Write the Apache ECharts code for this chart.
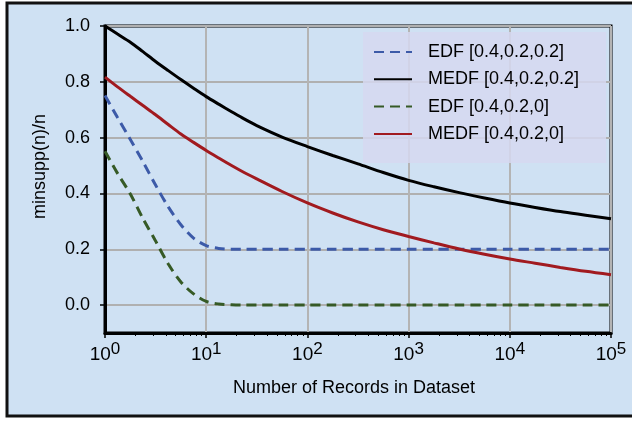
<!DOCTYPE html>
<html><head><meta charset="utf-8">
<script src="https://cdn.jsdelivr.net/npm/echarts@6/dist/echarts.min.js"></script>
<style>html,body{margin:0;padding:0;background:#fff}#c{width:632px;height:423px}</style>
</head><body><div id="c"></div>
<script>
// Records (x, log scale)
const records = [1,1.33,1.78,2.37,3.16,4.22,5.62,7.5,10,13.3,17.8,23.7,31.6,56.2,100,178,316,562,1000,1780,3160,5620,10000,17800,31600,56200,100000];
// Series values (minsupp(n)/n)
const edf02  = [0.751,0.672,0.593,0.514,0.43,0.352,0.288,0.24,0.213,0.203,0.2,0.2,0.2,0.2,0.2,0.2,0.2,0.2,0.2,0.2,0.2,0.2,0.2,0.2,0.2,0.2,0.2];
const medf02 = [1.0,0.971,0.942,0.908,0.873,0.84,0.808,0.777,0.747,0.72,0.693,0.667,0.643,0.602,0.568,0.536,0.506,0.475,0.447,0.424,0.403,0.384,0.366,0.35,0.335,0.322,0.309];
const edf0   = [0.551,0.472,0.398,0.31,0.23,0.147,0.083,0.04,0.013,0.004,0.001,0,0,0,0,0,0,0,0,0,0,0,0,0,0,0,0];
const medf0  = [0.817,0.782,0.748,0.715,0.682,0.647,0.613,0.583,0.554,0.527,0.5,0.475,0.452,0.407,0.366,0.33,0.298,0.27,0.246,0.223,0.201,0.182,0.165,0.15,0.135,0.121,0.109];
const seriesNames = ['EDF [0.4,0.2,0.2]','MEDF [0.4,0.2,0.2]','EDF [0.4,0.2,0]','MEDF [0.4,0.2,0]'];
// Tick values
const yTicks = [0,0.2,0.4,0.6,0.8,1.0];
const xMinor = [2,3,4,5,6,7,8,9,20,30,40,50,60,70,80,90,200,300,400,500,600,700,800,900,2000,3000,4000,5000,6000,7000,8000,9000,20000,30000,40000,50000,60000,70000,80000,90000];

const FONT = "'Liberation Sans', Arial, sans-serif";
const pair = arr => records.map((r,i)=>[r,arr[i]]);
const chart = echarts.init(document.getElementById('c'), null, {renderer:'canvas'});
const lineSeries = (name, data, color, dashed) => ({
  name, type:'line', data: pair(data), xAxisIndex:0, yAxisIndex:0,
  symbol:'none', smooth:0.3, z: 5,
  lineStyle:{color, width:3, type: dashed ? [10,6] : 'solid'},
  itemStyle:{color}
});
chart.setOption({
  backgroundColor:'#ffffff',
  animation:false,
  graphic:[{type:'rect', z:-100, shape:{x:7,y:3,width:700,height:413},
    style:{fill:'#cfe1f3', stroke:'#111', lineWidth:3}}],
  grid:{left:105, right:21, top:26, bottom:90, show:true, borderColor:'#000', borderWidth:3, backgroundColor:'transparent'},
  legend:{
    orient:'vertical', left:363, top:32, itemWidth:38, itemHeight:20, itemGap:9.3,
    padding:[11,27,20,10], backgroundColor:'rgba(214,216,240,0.85)',
    itemStyle:{opacity:0},
    textStyle:{fontFamily:FONT, fontSize:18, color:'#000', padding:[0,0,0,11]},
    data: seriesNames
  },
  xAxis:[{
    type:'log', logBase:10, min:1, max:100000,
    name:'Number of Records in Dataset', nameLocation:'middle', nameGap:46,
    nameTextStyle:{fontFamily:FONT, fontSize:18, color:'#000', padding:[0,8,0,0]},
    axisLine:{onZero:false, lineStyle:{color:'#000', width:3}},
    axisTick:{length:5, lineStyle:{color:'#000', width:1.5}},
    splitLine:{show:true, lineStyle:{color:'#b4b4b4', width:2}},
    axisLabel:{margin:8, color:'#000',
      formatter: v => '{b|10}{e|' + Math.round(Math.log10(v)) + '}',
      rich:{b:{fontFamily:FONT, fontSize:19, color:'#000'}, e:{fontFamily:FONT, fontSize:17, color:'#000', padding:[0,0,11,0]}}}
  },{
    type:'value', min:0, max:5, position:'bottom',
    axisLine:{show:false, onZero:false}, splitLine:{show:false},
    axisLabel:{show:false, customValues: xMinor.map(Math.log10)},
    axisTick:{length:3, lineStyle:{color:'#000', width:1}, customValues: xMinor.map(Math.log10)}
  }],
  yAxis:{
    type:'value', min:-0.1, max:1.0,
    name:'minsupp(n)/n', nameLocation:'middle', nameGap:56,
    nameTextStyle:{fontFamily:FONT, fontSize:18, color:'#000', padding:[0,0,0,26]},
    axisLine:{lineStyle:{color:'#000', width:3}},
    axisTick:{length:5, customValues:yTicks, lineStyle:{color:'#000', width:1.5}},
    splitLine:{show:true, lineStyle:{color:'#b0b0b0', width:2}},
    axisLabel:{customValues:yTicks, margin:15, fontFamily:FONT, fontSize:18, color:'#000',
      formatter: v => v.toFixed(1)}
  },
  series:[
    lineSeries(seriesNames[0], edf02, '#3c5aa8', true),
    lineSeries(seriesNames[1], medf02, '#000000', false),
    lineSeries(seriesNames[2], edf0, '#365a26', true),
    lineSeries(seriesNames[3], medf0, '#a11a1f', false)
  ]
});
</script></body></html>
